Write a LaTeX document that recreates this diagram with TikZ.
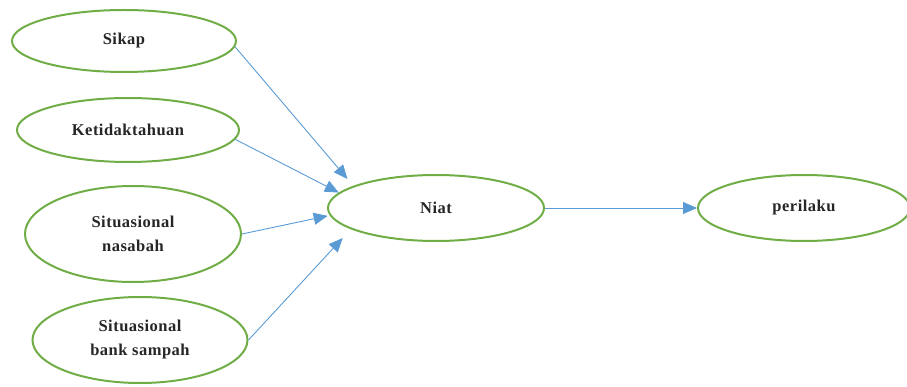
\documentclass[tikz,border=0pt]{standalone}
\usepackage{fontspec}
\setmainfont{Liberation Serif}[LetterSpace=3]
\usetikzlibrary{shapes.geometric,arrows.meta}
\definecolor{ovgreen}{HTML}{70AD47}
\definecolor{arblue}{HTML}{5B9BD5}
\definecolor{txt}{HTML}{262626}
\begin{document}
\begin{tikzpicture}[x=1pt,y=-1pt,
  ov/.style={ellipse,draw=ovgreen,line width=2pt,inner sep=0pt,align=center,
    text=txt,font={\fontsize{16.5}{24}\selectfont\bfseries}},
  arr/.style={draw=arblue,line width=0.9pt,-{Triangle[length=14pt,width=12pt]}}]
\useasboundingbox (0,0) rectangle (907,387);
\node[ov,minimum width=224pt,minimum height=62pt] (sikap) at (124,41) {Sikap};
\node[ov,minimum width=222pt,minimum height=64pt] (ket) at (128,130) {Ketidaktahuan};
\node[ov,minimum width=216pt,minimum height=96pt] (nas) at (133,234) {Situasional\\nasabah};
\node[ov,minimum width=215pt,minimum height=86pt] (bank) at (140,340) {Situasional\\bank sampah};
\node[ov,minimum width=216pt,minimum height=66pt] (niat) at (436,208) {Niat};
\node[ov,minimum width=212pt,minimum height=66pt] (per) at (804,208) {perilaku};
\draw[arr,shorten >=9pt] (sikap.-3) -- (niat.165);
\draw[arr] (ket.-5) -- (niat.171);
\draw[arr,shorten >=2pt] (nas.east) -- (niat.184);
\draw[arr,shorten >=12pt] (bank.east) -- (niat.194);
\draw[arr] (niat.east) -- (per.west);
\end{tikzpicture}
\end{document}
